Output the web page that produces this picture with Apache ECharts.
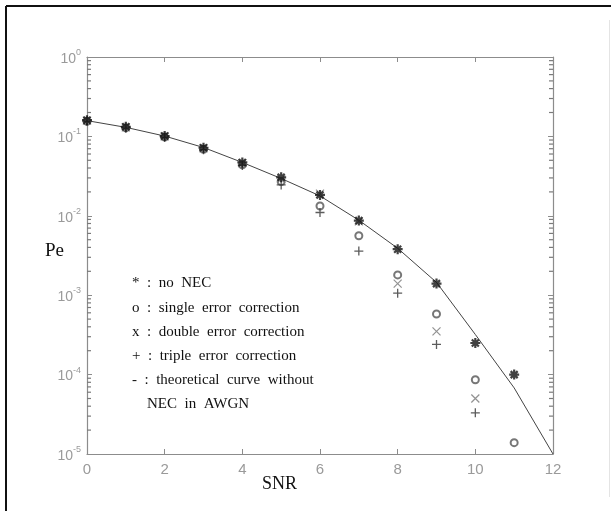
<!DOCTYPE html>
<html>
<head>
<meta charset="utf-8">
<script src="https://cdn.jsdelivr.net/npm/echarts@6/dist/echarts.min.js"></script>
<style>html,body{margin:0;padding:0;background:#fff}#c{width:611px;height:511px}</style>
</head>
<body>
<div id="c"></div>
<script>
// ---- data ----
const snr = [0, 1, 2, 3, 4, 5, 6, 7, 8, 9, 10, 11];
const theorySnr = [0, 1, 2, 3, 4, 5, 6, 7, 8, 9, 10, 11, 12];
const theory = [0.158, 0.130, 0.101, 0.0725, 0.047, 0.0295, 0.0178, 0.0088, 0.0039, 0.00145, 0.00032, 0.000068, 0.00001];
const noNEC  = [0.16, 0.132, 0.101, 0.072, 0.047, 0.0305, 0.0183, 0.0087, 0.0038, 0.0014, 0.00025, 0.0001];
const single = [0.155, 0.128, 0.098, 0.069, 0.044, 0.027, 0.0133, 0.0056, 0.0018, 0.00058, 0.000086, 0.0000139];
const double = [0.158, 0.13, 0.1, 0.071, 0.046, 0.029, 0.019, 0.0085, 0.0014, 0.00035, 0.00005, null];
const triple = [0.155, 0.127, 0.097, 0.068, 0.043, 0.0245, 0.011, 0.0036, 0.00106, 0.00024, 0.000033, null];
const xTickLabels = ['0', '2', '4', '6', '8', '10', '12'];
const yTickExponents = ['0', '-1', '-2', '-3', '-4', '-5'];
const minorMantissas = [2, 3, 4, 5, 6, 7, 8, 9];
const minorDecades = [-5, -4, -3, -2, -1];
const legendLines = [
  '*  :  no  NEC',
  'o  :  single  error  correction',
  'x  :  double  error  correction',
  '+  :  triple  error  correction',
  '-  :  theoretical  curve  without',
  '    NEC  in  AWGN'
];

const minorValues = [];
minorDecades.forEach(d => minorMantissas.forEach(m => minorValues.push(m * Math.pow(10, d))));

function pairs(xs, ys) {
  const out = [];
  xs.forEach((x, i) => { if (ys[i] != null) out.push([x, ys[i]]); });
  return out;
}

const axisGray = '#8c8c8c';
const labelGray = '#9a9a9a';
const serif = '"Liberation Serif", "Times New Roman", serif';
const sans = '"Liberation Sans", Arial, sans-serif';

const asterisk = 'path://M5,0L5,10M0,5L10,5M1.5,1.5L8.5,8.5M8.5,1.5L1.5,8.5';
const cross = 'path://M0,0L10,10M10,0L0,10';
const plus = 'path://M5,0L5,10M0,5L10,5';

const chart = echarts.init(document.getElementById('c'), null, {renderer: 'canvas'});

const legendGraphics = legendLines.map((t, i) => ({
  type: 'text',
  left: 132,
  top: 285 + i * 24.2 - 9,
  style: {text: t, font: '15px ' + serif, fill: '#111'}
}));

function axisCommon(extra) {
  return Object.assign({
    axisLine: {show: true, onZero: false, lineStyle: {color: axisGray, width: 1.2}},
    axisTick: {show: true, inside: true, length: 5, lineStyle: {color: axisGray}},
    splitLine: {show: false}
  }, extra);
}

function minorTickSeries(xEdge, offset) {
  return {
    type: 'scatter', silent: true, clip: false, z: 5,
    data: minorValues.map(v => [xEdge, v]),
    symbol: 'rect', symbolSize: [4, 1.2], symbolOffset: [offset, 0],
    itemStyle: {color: '#7a7a7a', opacity: 1},
    emphasis: {disabled: true}
  };
}

chart.setOption({
  animation: false,
  backgroundColor: '#fff',
  grid: {left: 87, right: 58, top: 57, bottom: 57, containLabel: false},
  xAxis: [
    axisCommon({type: 'value', min: 0, max: 12, interval: 2, position: 'bottom',
      axisLabel: {color: labelGray, fontFamily: sans, fontSize: 15, margin: 8,
        formatter: v => xTickLabels[Math.round(v / 2)]}}),
    axisCommon({type: 'value', min: 0, max: 12, interval: 2, position: 'top',
      axisLabel: {show: false}})
  ],
  yAxis: [
    axisCommon({type: 'log', logBase: 10, min: 1e-5, max: 1, position: 'left',
      axisLabel: {
        margin: 6,
        formatter: v => {
          const e = Math.round(-Math.log10(v));
          return '{b|10}{s|' + yTickExponents[e] + '}';
        },
        rich: {
          b: {fontFamily: sans, fontSize: 14, color: labelGray, lineHeight: 18, verticalAlign: 'bottom'},
          s: {fontFamily: sans, fontSize: 9, color: labelGray, lineHeight: 18, verticalAlign: 'top'}
        }
      }}),
    axisCommon({type: 'log', logBase: 10, min: 1e-5, max: 1, position: 'right',
      axisLabel: {show: false}})
  ],
  series: [
    minorTickSeries(0, 2),
    minorTickSeries(12, -2),
    {
      name: 'theoretical', type: 'line', data: pairs(theorySnr, theory),
      showSymbol: false, symbol: 'none', lineStyle: {color: '#444', width: 1}, z: 2
    },
    {
      name: 'single', type: 'scatter', data: pairs(snr, single), symbol: 'emptyCircle', symbolSize: 7,
      itemStyle: {color: '#555', borderColor: '#555', borderWidth: 1.2}, z: 3
    },
    {
      name: 'double', type: 'scatter', data: pairs(snr, double), symbol: cross, symbolSize: 8,
      itemStyle: {color: 'rgba(0,0,0,0)', borderColor: '#777', borderWidth: 1.2}, z: 3
    },
    {
      name: 'triple', type: 'scatter', data: pairs(snr, triple), symbol: plus, symbolSize: 9,
      itemStyle: {color: 'rgba(0,0,0,0)', borderColor: '#333', borderWidth: 1.3}, z: 3
    },
    {
      name: 'noNEC', type: 'scatter', data: pairs(snr, noNEC), symbol: asterisk, symbolSize: 10,
      itemStyle: {color: 'rgba(0,0,0,0)', borderColor: '#111', borderWidth: 2.2}, z: 4
    }
  ],
  graphic: [
    {type: 'line', shape: {x1: 6, y1: 6, x2: 611, y2: 6}, style: {stroke: '#111', lineWidth: 2}},
    {type: 'line', shape: {x1: 6, y1: 6, x2: 6, y2: 511}, style: {stroke: '#111', lineWidth: 2}},
    {type: 'line', shape: {x1: 609.5, y1: 20, x2: 609.5, y2: 497}, style: {stroke: '#e4e4e4', lineWidth: 1}},
    {type: 'text', left: 45, top: 242, style: {text: 'Pe', font: '19px ' + serif, fill: '#111'}},
    {type: 'text', left: 262, top: 475, style: {text: 'SNR', font: '18px ' + serif, fill: '#111'}}
  ].concat(legendGraphics)
});
</script>
</body>
</html>
